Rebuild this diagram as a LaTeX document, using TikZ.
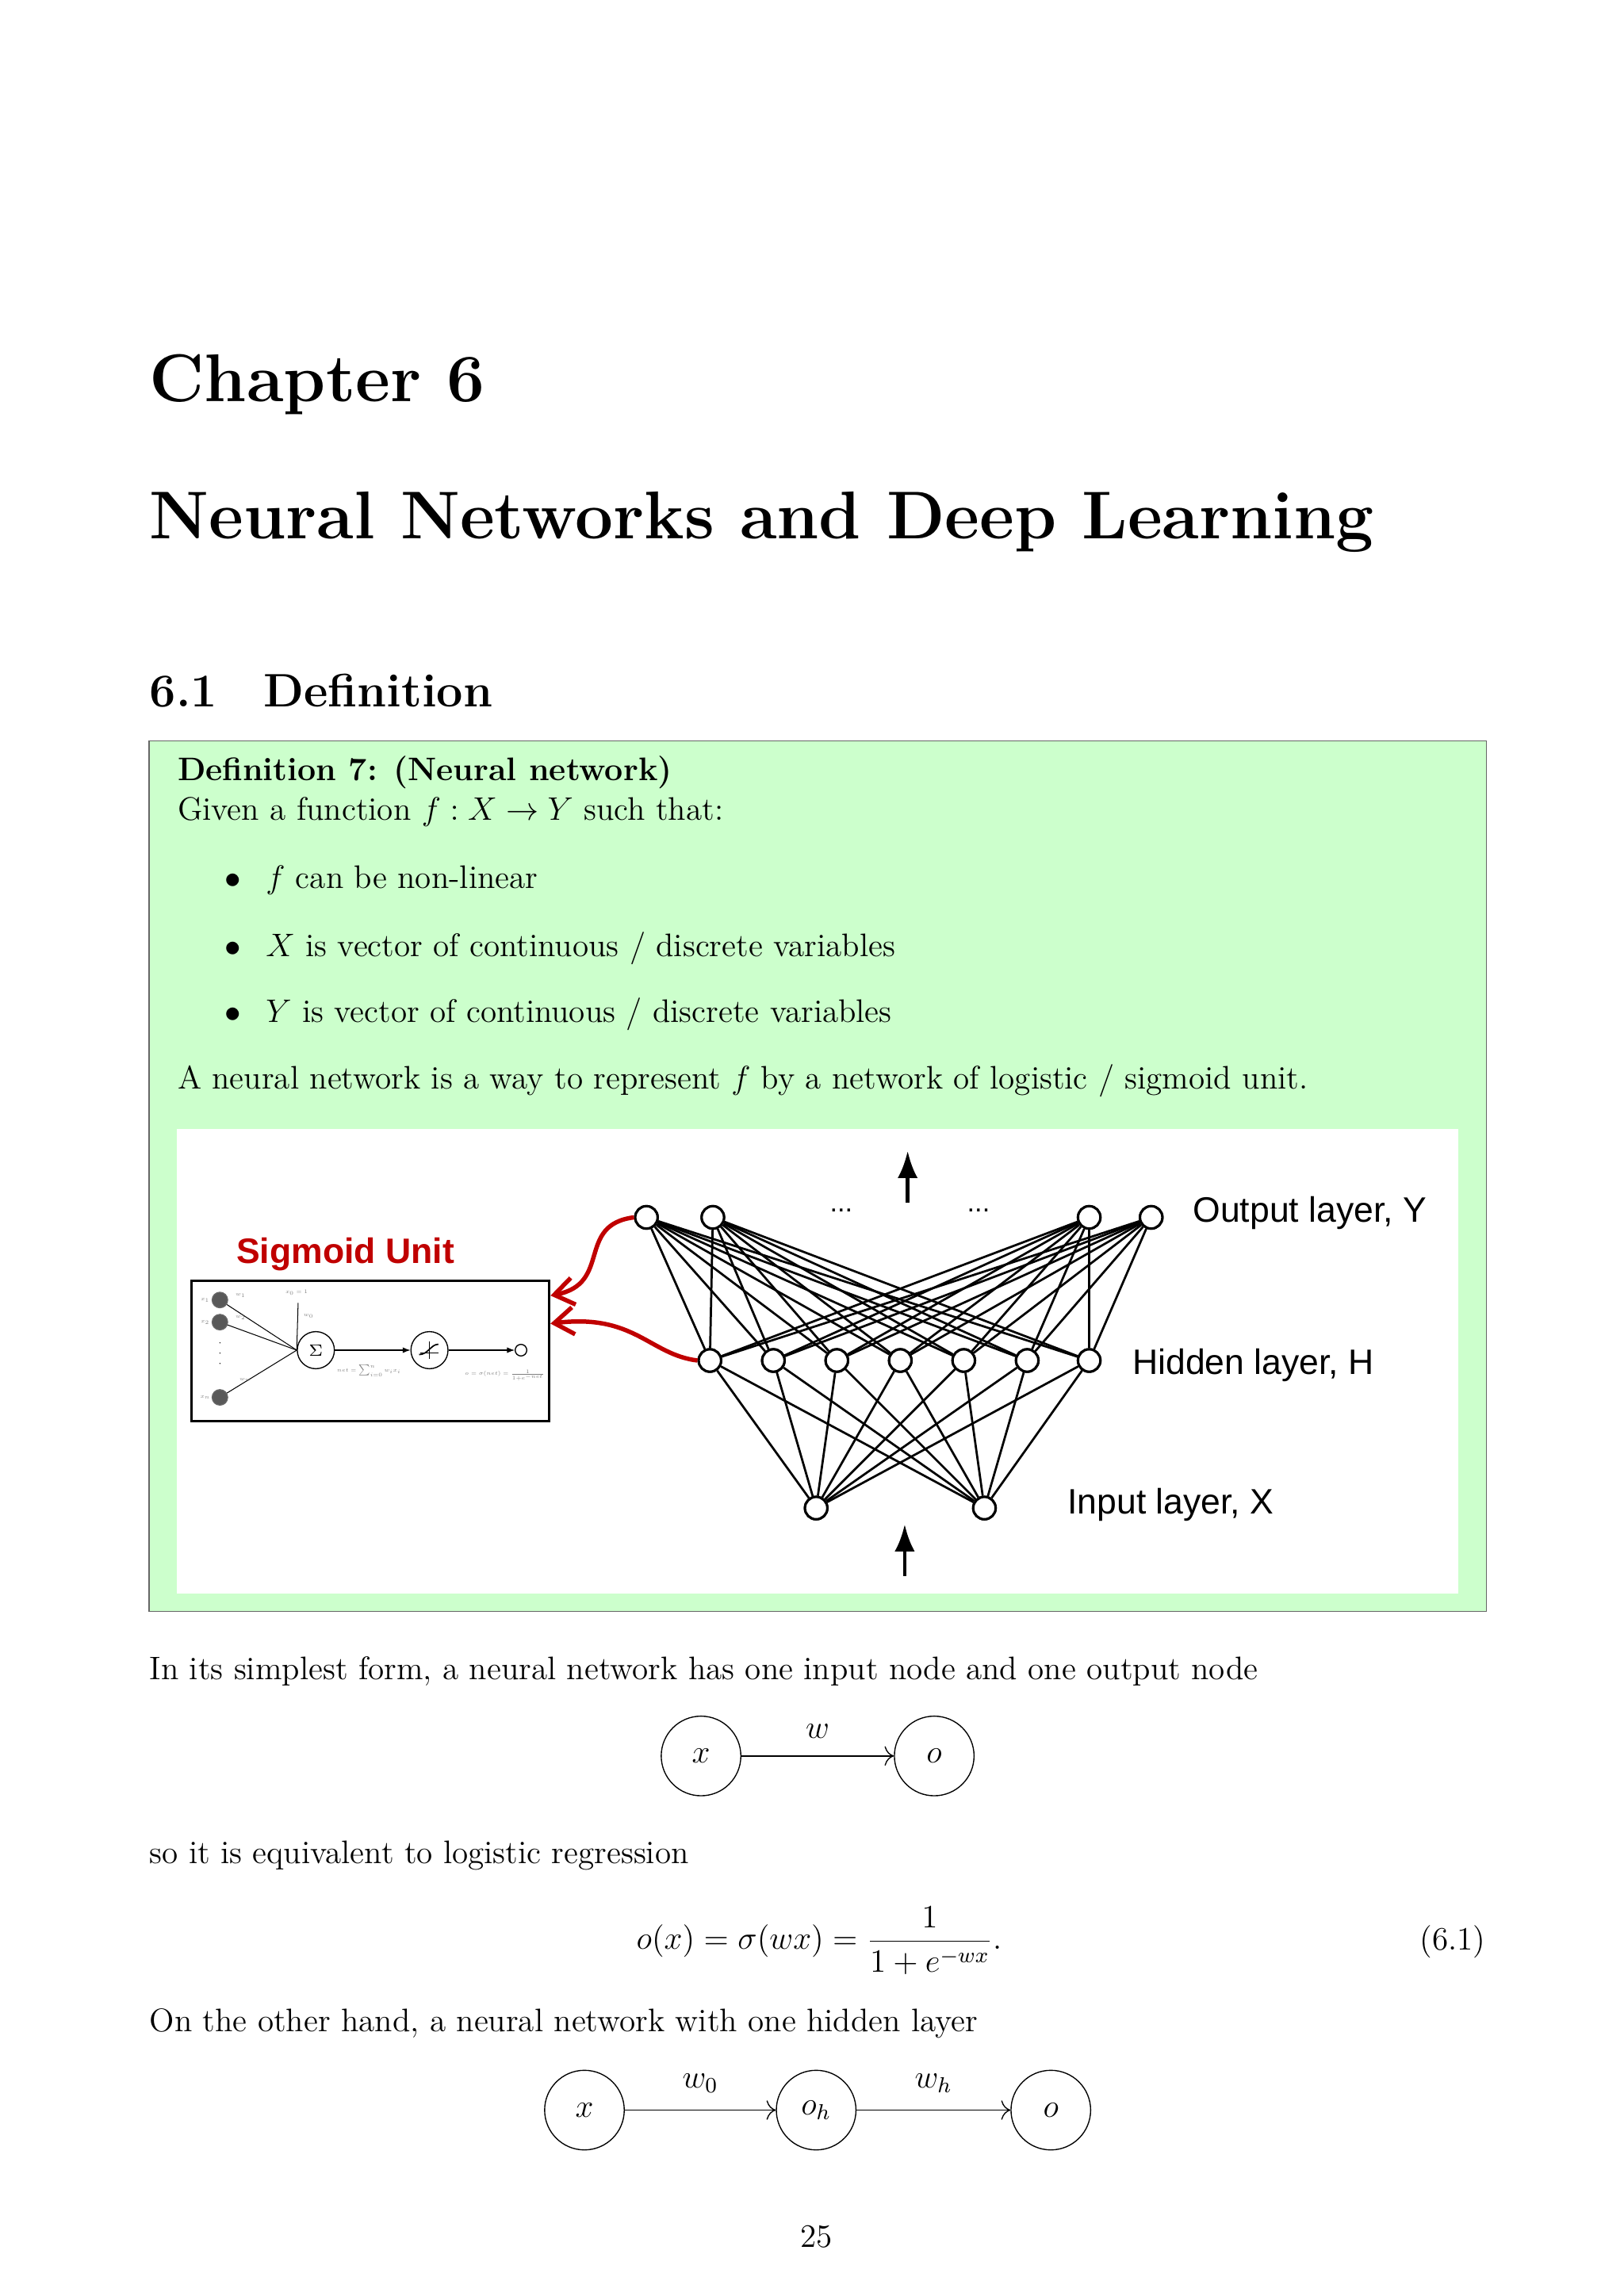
\documentclass[tikz,border=0pt]{standalone}
\usepackage{fontspec}
\newfontfamily\arial{Liberation Sans}
\usetikzlibrary{arrows.meta}
\definecolor{defgreen}{RGB}{204,255,204}
\definecolor{sigred}{RGB}{192,0,0}
\begin{document}
\begin{tikzpicture}[x=0.1909mm,y=-0.1909mm,
  nn/.style={circle,draw,fill=white,line width=0.9pt,minimum size=2.9mm,inner sep=0pt},
  cn/.style={circle,draw,minimum size=10.3mm,inner sep=0pt,font=\fontsize{12}{14}\selectfont},
  body/.style={anchor=base west,inner sep=0pt,font=\fontsize{12}{14}\selectfont},
  lbl/.style={anchor=west,inner sep=0pt,font=\arial\fontsize{13}{15}\selectfont},
  tiny/.style={inner sep=0pt,font=\fontsize{5}{6}\selectfont,text=gray,scale=0.4}]
\useasboundingbox (0,0) rectangle (1100,1556);
\fill[white] (0,0) rectangle (1100,1556);
% headings
\node[body,font=\bfseries\fontsize{24.88}{30}\selectfont] (ch) at (101,272) {Chapter 6};
\node[body,font=\bfseries\fontsize{24.88}{30}\selectfont] (tt) at (101,365) {Neural Networks and Deep Learning};
\node[body,font=\bfseries\fontsize{17.28}{21}\selectfont] (sec) at (101,479) {6.1\hspace{6mm}Definition};
% definition box
\draw[fill=defgreen,draw=gray!80!black,line width=0.4pt] (101,502) rectangle (1007,1092);
\node[body,font=\bfseries\fontsize{12}{14}\selectfont] (dh) at (120,529) {Definition 7: (Neural network)};
\node[body] (d1) at (120,556) {Given a function $f : X \rightarrow Y$ such that:};
\node[body] (b1) at (152,602) {$\bullet$\hspace{3.2mm}$f$ can be non-linear};
\node[body] (b2) at (152,648) {$\bullet$\hspace{3.2mm}$X$ is vector of continuous / discrete variables};
\node[body] (b3) at (152,693) {$\bullet$\hspace{3.2mm}$Y$ is vector of continuous / discrete variables};
\node[body] (d2) at (120,738) {A neural network is a way to represent $f$ by a network of logistic / sigmoid unit.};
\fill[white] (120,765) rectangle (988,1080);
% network
\foreach \i/\x in {1/438,2/483,3/738,4/780} \node[nn] (o\i) at (\x,825) {};
\foreach \i/\x in {1/481,2/524,3/567,4/610,5/653,6/696,7/738} \node[nn] (h\i) at (\x,922) {};
\foreach \i/\x in {1/553,2/667} \node[nn] (in\i) at (\x,1022) {};
\foreach \i in {1,2} \foreach \j in {1,...,7} \draw[line width=0.8pt] (in\i) -- (h\j);
\foreach \j in {1,...,7} \foreach \i in {1,...,4} \draw[line width=0.8pt] (h\j) -- (o\i);
\foreach \i in {1,...,4} \node[nn] at (o\i) {};
\foreach \j in {1,...,7} \node[nn] at (h\j) {};
\foreach \i in {1,2} \node[nn] at (in\i) {};
\node[font=\arial\fontsize{10}{12}\selectfont] (dl) at (570,820) {...};
\node[font=\arial\fontsize{10}{12}\selectfont] (dr) at (663,820) {...};
\coordinate (ua1) at (615,815); \coordinate (ua2) at (615,780);
\draw[line width=1.4pt,-{Latex[length=3.5mm,width=2.6mm]}] (ua1) -- (ua2);
\coordinate (da1) at (613,1068); \coordinate (da2) at (613,1033);
\draw[line width=1.4pt,-{Latex[length=3.5mm,width=2.6mm]}] (da1) -- (da2);
\node[lbl] (lo) at (808,822) {Output layer, Y};
\node[lbl] (lh) at (767,925) {Hidden layer, H};
\node[lbl] (li) at (723,1020) {Input layer, X};
% sigmoid unit
\node[font=\arial\bfseries\fontsize{13}{15}\selectfont,text=sigred] (st) at (234,850) {Sigmoid Unit};
\draw[line width=0.9pt] (130,868) rectangle (372,963);
\coordinate (sa) at (373,878); \coordinate (sb) at (373,897);
\draw[sigred,line width=1.6pt,-{Straight Barb[length=2.5mm,width=3.5mm]}] (o1.west) .. controls (390,830) and (415,870) .. (sa);
\draw[sigred,line width=1.6pt,-{Straight Barb[length=2.5mm,width=3.5mm]}] (h1.west) .. controls (440,918) and (430,890) .. (sb);
\foreach \i/\y in {1/881,2/896,3/947} \node[circle,fill=gray!70!black,draw=black!60,minimum size=2mm,inner sep=0pt] (sx\i) at (149,\y) {};
\node[circle,draw,minimum size=4.8mm,inner sep=0pt,font=\fontsize{6}{7}\selectfont] (sig) at (214,915) {$\Sigma$};
\node[circle,draw,minimum size=4.8mm,inner sep=0pt] (sg) at (291,915) {};
\node[circle,draw,minimum size=1.5mm,inner sep=0pt] (so) at (353,915) {};
\coordinate (x0) at (202,883);
\foreach \i in {1,2,3} \draw[line width=0.3pt] (sx\i) -- (sig.west);
\draw[line width=0.3pt] (x0) -- (sig.west);
\draw[line width=0.3pt,-{Latex[length=1mm]}] (sig) -- (sg);
\draw[line width=0.3pt,-{Latex[length=1mm]}] (sg) -- (so);
\draw[line width=0.5pt] (284,918) .. controls (290,918) and (292,911) .. (297,911);
\draw[line width=0.2pt] (291,909) -- (291,921) (285,917) -- (297,917);
\foreach \y in {910,917,924} \fill (149,\y) circle (0.4);
\node[tiny] at (139,881) {$x_1$}; \node[tiny] at (139,896) {$x_2$}; \node[tiny] at (139,947) {$x_n$};
\node[tiny] at (163,878) {$w_1$}; \node[tiny] at (163,893) {$w_2$}; \node[tiny] at (166,935) {$w_n$};
\node[tiny] at (201,876) {$x_0=1$}; \node[tiny] at (209,892) {$w_0$};
\node[tiny] at (250,929) {$net=\sum_{i=0}^{n} w_i x_i$};
\node[tiny] at (342,932) {$o=\sigma(net)=\frac{1}{1+e^{-net}}$};
% text
\node[body] (p1) at (101,1138) {In its simplest form, a neural network has one input node and one output node};
\node[cn] (x1) at (475,1190) {$x$};
\node[cn] (oo1) at (633,1190) {$o$};
\draw[-{To[length=1.2mm]},line width=0.4pt] (x1) -- node[above=1mm,font=\fontsize{12}{14}\selectfont]{$w$} (oo1);
\node[body] (p2) at (101,1263) {so it is equivalent to logistic regression};
\node[font=\fontsize{12}{14}\selectfont] (eq) at (555,1315) {$\displaystyle o(x)=\sigma(wx)=\frac{1}{1+e^{-wx}}.$};
\node[anchor=east,font=\fontsize{12}{14}\selectfont,inner sep=0pt] (en) at (1007,1316) {(6.1)};
\node[body] (p3) at (101,1377) {On the other hand, a neural network with one hidden layer};
\node[cn] (x2) at (396,1430) {$x$};
\node[cn] (oh) at (553,1430) {$o_h$};
\node[cn] (oo2) at (712,1430) {$o$};
\draw[-{To[length=1.2mm]},line width=0.4pt] (x2) -- node[above=1mm,font=\fontsize{12}{14}\selectfont]{$w_0$} (oh);
\draw[-{To[length=1.2mm]},line width=0.4pt] (oh) -- node[above=1mm,font=\fontsize{12}{14}\selectfont]{$w_h$} (oo2);
\node[font=\fontsize{12}{14}\selectfont] (pg) at (553,1516) {25};
\end{tikzpicture}
\end{document}
